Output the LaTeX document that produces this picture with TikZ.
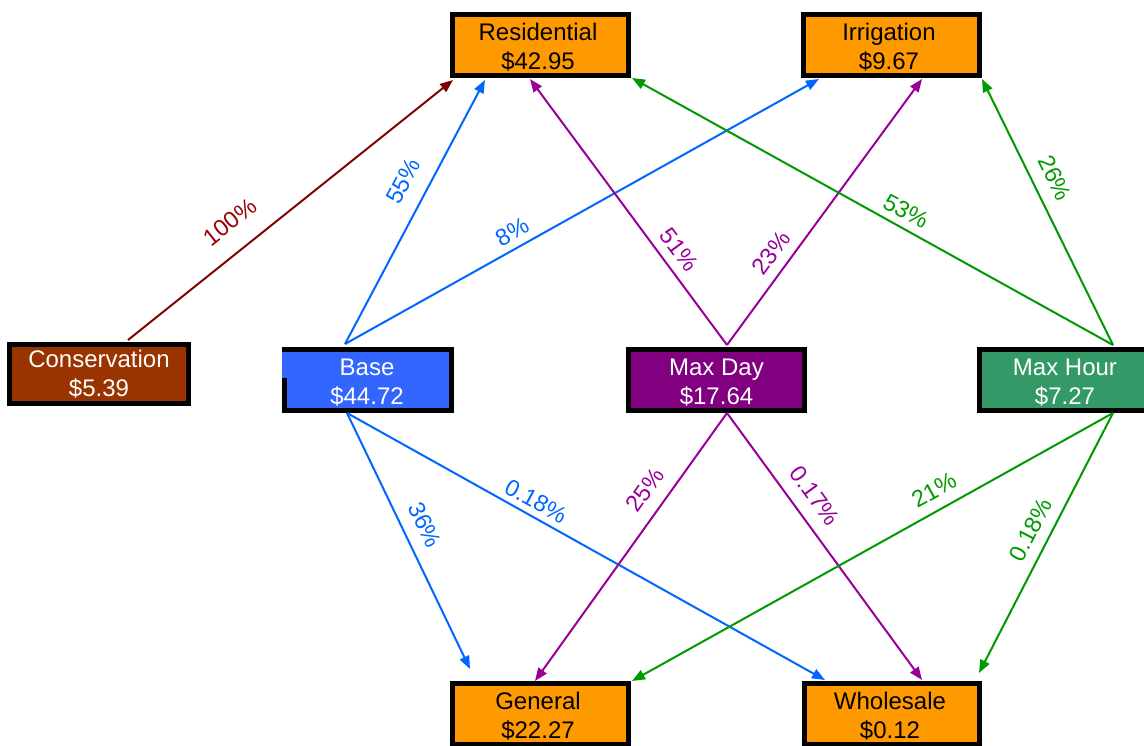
\documentclass[tikz,border=0pt]{standalone}
\usepackage{fontspec}
\setmainfont{Liberation Sans}
\usetikzlibrary{arrows.meta}
\definecolor{orng}{HTML}{FF9900}
\definecolor{consc}{HTML}{993300}
\definecolor{basec}{HTML}{3366FF}
\definecolor{mdc}{HTML}{800080}
\definecolor{mhc}{HTML}{339966}
\definecolor{lblue}{HTML}{0066FF}
\definecolor{lpurp}{HTML}{990099}
\definecolor{lgreen}{HTML}{009900}
\definecolor{lred}{HTML}{800000}
\definecolor{tred}{HTML}{990000}
\begin{document}
\begin{tikzpicture}[x=1pt,y=-1pt,
  box/.style={draw=black,line width=5pt,rectangle,inner sep=0pt},
  obox/.style={box,fill=orng},
  btext/.style={inner sep=0pt,align=center,font=\fontsize{24}{29}\selectfont},
  conn/.style={line width=2pt,-{Triangle[length=13pt,width=10pt]}},
  lbl/.style={font=\fontsize{23.5}{27}\selectfont,inner sep=0pt}]
\useasboundingbox (0,0) rectangle (1144,746);
\clip (0,0) rectangle (1144,746);
\fill[white] (0,0) rectangle (1144,746);

% boxes
\node[obox,minimum width=176pt,minimum height=61pt] (res) at (540.5,45) {};
\node[btext] (rest) at (538,47.5) {Residential\\\$42.95};
\node[obox,minimum width=176pt,minimum height=61pt] (irr) at (891,45) {};
\node[btext] (irrt) at (889,47.5) {Irrigation\\\$9.67};
\node[box,fill=consc,minimum width=178.5pt,minimum height=59pt] (cons) at (99,374) {};
\node[btext,text=white] (const) at (99,374) {Conservation\\\$5.39};
\node[box,fill=basec,minimum width=166.5pt,minimum height=60.5pt] (base) at (368,380) {};
\fill[basec] (282,352) rectangle (288,378);
\node[btext,text=white] (baset) at (367,382.5) {Base\\\$44.72};
\node[box,fill=mdc,minimum width=176pt,minimum height=60.5pt] (md) at (716.5,380) {};
\node[btext,text=white] (mdt) at (716.5,382.5) {Max Day\\\$17.64};
\node[box,fill=mhc,minimum width=171pt,minimum height=60.5pt] (mh) at (1065,380) {};
\node[btext,text=white] (mht) at (1065,382.5) {Max Hour\\\$7.27};
\node[obox,minimum width=176pt,minimum height=61pt] (gen) at (540,714) {};
\node[btext] (gent) at (538,716.5) {General\\\$22.27};
\node[obox,minimum width=175pt,minimum height=61pt] (who) at (891.5,714) {};
\node[btext] (whot) at (890,716.5) {Wholesale\\\$0.12};

% connector anchors
\coordinate (consT) at (128,340);
\coordinate (baseT) at (345,344);
\coordinate (baseB) at (347,413);
\coordinate (mdT) at (727,345);
\coordinate (mdB) at (727,413);
\coordinate (mhT) at (1113,345);
\coordinate (mhB) at (1113,413);
\coordinate (resA) at (453,80);
\coordinate (resB) at (485,80);
\coordinate (resC) at (530,79);
\coordinate (resD) at (632,78);
\coordinate (irrA) at (819,79);
\coordinate (irrB) at (922,79);
\coordinate (irrC) at (982,79);
\coordinate (genA) at (470,669);
\coordinate (genB) at (535,681);
\coordinate (genC) at (632,681);
\coordinate (whoA) at (825,680);
\coordinate (whoB) at (922,680);
\coordinate (whoC) at (979,673);

% connectors
\draw[conn,lred] (consT) -- (resA);
\draw[conn,lblue] (baseT) -- (resB);
\draw[conn,lblue] (baseT) -- (irrA);
\draw[conn,lblue] (baseB) -- (genA);
\draw[conn,lblue] (baseB) -- (whoA);
\draw[conn,lpurp] (mdT) -- (resC);
\draw[conn,lpurp] (mdT) -- (irrB);
\draw[conn,lpurp] (mdB) -- (genB);
\draw[conn,lpurp] (mdB) -- (whoB);
\draw[conn,lgreen] (mhT) -- (resD);
\draw[conn,lgreen] (mhT) -- (irrC);
\draw[conn,lgreen] (mhB) -- (genC);
\draw[conn,lgreen] (mhB) -- (whoC);

% labels
\node[lbl,text=tred,rotate=38.4] (l1) at (230,222) {100\%};
\node[lbl,text=lblue,rotate=61.9] (l2) at (403,181) {55\%};
\node[lbl,text=lblue,rotate=29.1] (l3) at (512,232) {8\%};
\node[lbl,text=lblue,rotate=-63.8] (l4) at (425,525) {36\%};
\node[lbl,text=lblue,rotate=-28.8] (l5) at (536,501) {0.18\%};
\node[lbl,text=lpurp,rotate=-53.5] (l6) at (679,250) {51\%};
\node[lbl,text=lpurp,rotate=53.8] (l7) at (771,253) {23\%};
\node[lbl,text=lpurp,rotate=54.4] (l8) at (645,490) {25\%};
\node[lbl,text=lpurp,rotate=-53.9] (l9) at (815,496) {0.17\%};
\node[lbl,text=lgreen,rotate=-28] (l10) at (906,211) {53\%};
\node[lbl,text=lgreen,rotate=-64] (l11) at (1055,178) {26\%};
\node[lbl,text=lgreen,rotate=28.9] (l12) at (934,490) {21\%};
\node[lbl,text=lgreen,rotate=62.6] (l13) at (1031,530) {0.18\%};
\end{tikzpicture}
\end{document}
